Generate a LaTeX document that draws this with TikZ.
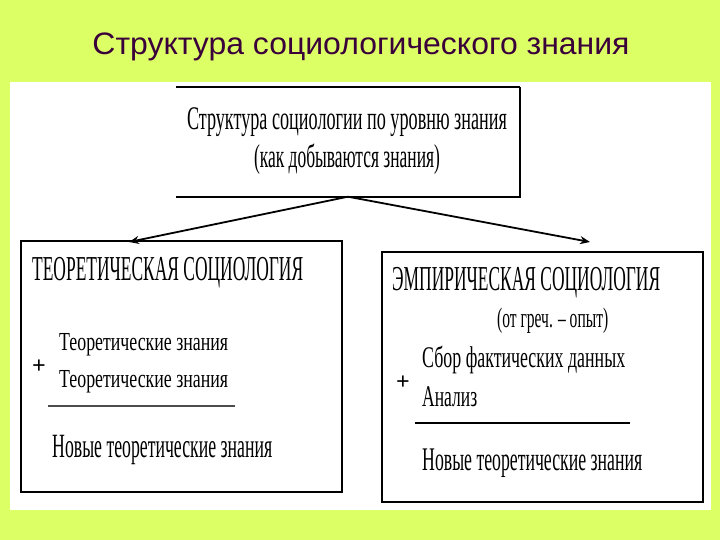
\documentclass[tikz,border=0pt]{standalone}
\usepackage{fontspec}
\usepackage{graphicx}
\setmainfont{Liberation Serif}
\newfontfamily\titlefont{Liberation Sans}
\usetikzlibrary{arrows.meta}

\definecolor{slidebg}{RGB}{221,255,102}
\definecolor{titlecol}{RGB}{58,0,58}

% squeeze a line of text to a given width, keeping its height
\newcommand{\fitw}[2]{\resizebox{#1}{\height}{#2}}

\begin{document}
\begin{tikzpicture}[
  x=1pt, y=-1pt,
  box/.style={draw, line width=1.6pt, inner sep=0pt, minimum width=#1},
  txt/.style={anchor=west, inner sep=0pt, font=\fontsize{#1}{#1}\selectfont},
  plus/.style={inner sep=0pt, font=\fontsize{24}{24}\selectfont\bfseries},
  rule/.style={line width=1.6pt},
  link/.style={line width=1.8pt, -{Stealth[length=10pt,width=8pt]}}
]
\useasboundingbox (0,0) rectangle (720,540);
\fill[slidebg] (0,0) rectangle (720,540);
\fill[white] (10,82) rectangle (711,510);

\node[inner sep=0pt, text=titlecol, font=\titlefont\fontsize{31}{36}\selectfont] (title) at (361,47) {\fitw{537pt}{Структура социологического знания}};

% top box (open on the left)
\node[inner sep=0pt, minimum width=343pt, minimum height=109pt] (topbox) at (348,142) {};
\draw[line width=2.4pt] (topbox.north west) -- (topbox.north east);
\draw[line width=1.8pt] (topbox.north east) -- (topbox.south east) -- (topbox.south west);
\node[inner sep=0pt, align=center, font=\fontsize{33}{38}\selectfont] (toptext) at (347,141)
  {\fitw{320pt}{Структура социологии по уровню знания}\\\fitw{186pt}{(как добываются знания)}};

% lower boxes
\node[box=321pt, minimum height=251pt] (theory) at (181.5,366.5) {};
\node[box=321pt, minimum height=250pt] (empiric) at (542.5,377) {};

\coordinate (theoryin) at (129,242);
\coordinate (empiricin) at (590,242);
\draw[link] (topbox.south) -- (theoryin);
\draw[link] (topbox.south) -- (empiricin);

% theoretical sociology
\node[txt=35] (thhead) at (32,273) {\fitw{271pt}{ТЕОРЕТИЧЕСКАЯ СОЦИОЛОГИЯ}};
\node[txt=26] (th1) at (59,345) {\fitw{169pt}{Теоретические знания}};
\node[txt=26] (th2) at (59,382) {\fitw{169pt}{Теоретические знания}};
\node[plus] (thplus) at (39,367) {+};
\draw[rule, black!70] (48,406) -- (235,406);
\node[txt=34] (thnew) at (52,450) {\fitw{220pt}{Новые теоретические знания}};

% empirical sociology
\node[txt=35] (emhead) at (392,283) {\fitw{268pt}{ЭМПИРИЧЕСКАЯ СОЦИОЛОГИЯ}};
\node[txt=28] (emnote) at (497,321) {\fitw{111pt}{(от греч. – опыт)}};
\node[txt=30] (em1) at (422,360) {\fitw{203pt}{Сбор фактических данных}};
\node[txt=30] (em2) at (422,397) {\fitw{55pt}{Анализ}};
\node[plus] (emplus) at (403,383) {+};
\draw[rule] (415,423) -- (630,423);
\node[txt=33] (emnew) at (422,463) {\fitw{220pt}{Новые теоретические знания}};

\end{tikzpicture}
\end{document}
